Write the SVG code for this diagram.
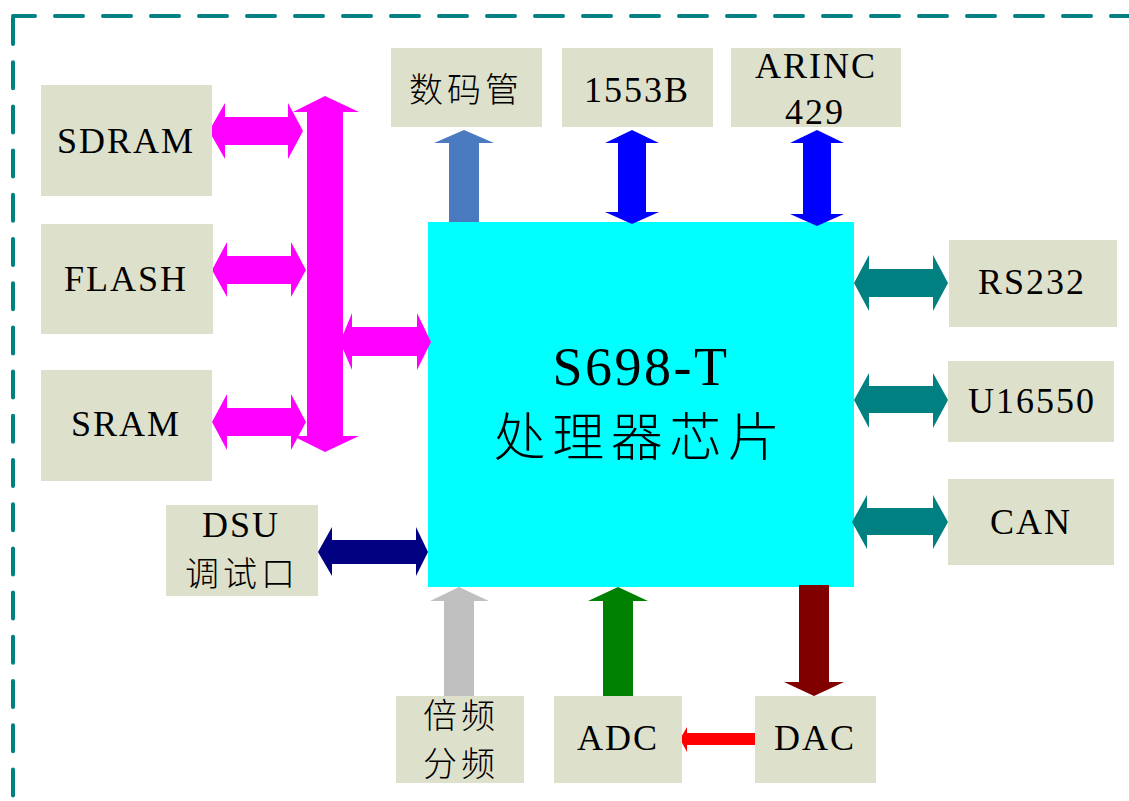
<svg xmlns="http://www.w3.org/2000/svg" width="1129" height="801" viewBox="0 0 1129 801">
<style>
.box{fill:#DDE0CB}
.t{font-family:"Liberation Serif","Noto Sans CJK SC",serif;font-size:36px;fill:#000;text-anchor:middle;letter-spacing:2px}
.c{font-family:"Noto Sans CJK SC","Liberation Serif",serif;font-size:34px;fill:#000;text-anchor:middle;letter-spacing:4px;font-weight:300}
.border{fill:none;stroke:#008080;stroke-width:4;stroke-linecap:round}
</style>
<rect width="1129" height="801" fill="#fff"/>
<g id="border">
<line class="border" x1="13" y1="16" x2="1131" y2="16" stroke-dasharray="28 20" stroke-dashoffset="6"/>
<line class="border" x1="13" y1="16" x2="13" y2="803" stroke-dasharray="26 18.2" stroke-dashoffset="-2"/>
</g>
<g id="chip">
<rect x="428" y="222" width="426" height="365" fill="#00FFFF"/>
<text x="641" y="385" font-family="Liberation Serif, serif" font-size="54" text-anchor="middle" letter-spacing="2.5">S698-T</text>
<text x="640" y="456" font-family="Noto Sans CJK SC, serif" font-size="52" text-anchor="middle" letter-spacing="6.5" font-weight="300">处理器芯片</text>
</g>
<g id="connectors">
<polygon fill="#FF00FF" points="325,96 359,112 343,112 343,436 359,436 325,452 293,436 307,436 307,112 293,112"/>
<polygon fill="#FF00FF" points="209,131 225,103 225,117 288,117 288,103 303,131 288,159 288,145 225,145 225,159"/>
<polygon fill="#FF00FF" points="212,270 227,242 227,256 291,256 291,242 306,270 291,297 291,284 227,284 227,297"/>
<polygon fill="#FF00FF" points="212,422 227,394 227,408 291,408 291,394 306,422 291,450 291,436 227,436 227,450"/>
<polygon fill="#FF00FF" points="340,342 352,313 352,327 417,327 417,313 431,342 417,370 417,356 352,356 352,370"/>
<polygon fill="#000080" points="318,552 332,527 332,540 416,540 416,527 428,552 416,576 416,564 332,564 332,576"/>
<polygon fill="#008080" points="854,283 869,255 869,269 933,269 933,255 948,283 933,311 933,297 869,297 869,311"/>
<polygon fill="#008080" points="854,400 869,373 869,386 933,386 933,373 948,400 933,428 933,413 869,413 869,428"/>
<polygon fill="#008080" points="852,522 867,495 867,508 933,508 933,495 948,522 933,549 933,535 867,535 867,549"/>
<polygon fill="#4A7ABF" points="464,130 494,143 479,143 479,222 449,222 449,143 434,143"/>
<polygon fill="#0000FF" points="632,130 659,143 646,143 646,212 659,212 632,224 605,212 618,212 618,143 605,143"/>
<polygon fill="#0000FF" points="817,130 844,143 831,143 831,214 844,214 817,226 790,214 803,214 803,143 790,143"/>
<polygon fill="#C0C0C0" points="459,587 489,601 474,601 474,696 444,696 444,601 430,601"/>
<polygon fill="#008000" points="618,587 648,601 633,601 633,696 603,696 603,601 588,601"/>
<polygon fill="#800000" points="799,585 829,585 829,682 844,682 814,696 784,682 799,682"/>
<polygon fill="#FF0000" points="680,739 687,727 687,733 755,733 755,745 687,745 687,752"/>
</g>
<g id="sdram"><rect class="box" x="41" y="85" width="171" height="111"/><text class="t" x="126" y="153">SDRAM</text></g>
<g id="flash"><rect class="box" x="41" y="224" width="172" height="110"/><text class="t" x="126" y="291">FLASH</text></g>
<g id="sram"><rect class="box" x="41" y="370" width="171" height="111"/><text class="t" x="126" y="436">SRAM</text></g>
<g id="shumaguan"><rect class="box" x="391" y="48" width="151" height="79"/><text class="c" x="466" y="102">数码管</text></g>
<g id="b1553"><rect class="box" x="562" y="48" width="151" height="79"/><text class="t" x="637" y="102">1553B</text></g>
<g id="arinc"><rect class="box" x="731" y="48" width="170" height="79"/><text class="t" x="816" y="78">ARINC</text><text class="t" x="815" y="124">429</text></g>
<g id="rs232"><rect class="box" x="949" y="240" width="168" height="87"/><text class="t" x="1032" y="294">RS232</text></g>
<g id="u16550"><rect class="box" x="948" y="361" width="166" height="81"/><text class="t" x="1032" y="413">U16550</text></g>
<g id="can"><rect class="box" x="948" y="479" width="166" height="86"/><text class="t" x="1031" y="534">CAN</text></g>
<g id="dsu"><rect class="box" x="166" y="505" width="152" height="91"/><text class="t" x="241" y="537">DSU</text><text class="c" x="242" y="586">调试口</text></g>
<g id="beipin"><rect class="box" x="396" y="696" width="128" height="87"/><text class="c" x="461" y="728">倍频</text><text class="c" x="461" y="776">分频</text></g>
<g id="adc"><rect class="box" x="554" y="696" width="128" height="87"/><text class="t" x="618" y="750">ADC</text></g>
<g id="dac"><rect class="box" x="755" y="696" width="121" height="87"/><text class="t" x="815" y="750">DAC</text></g>
</svg>
